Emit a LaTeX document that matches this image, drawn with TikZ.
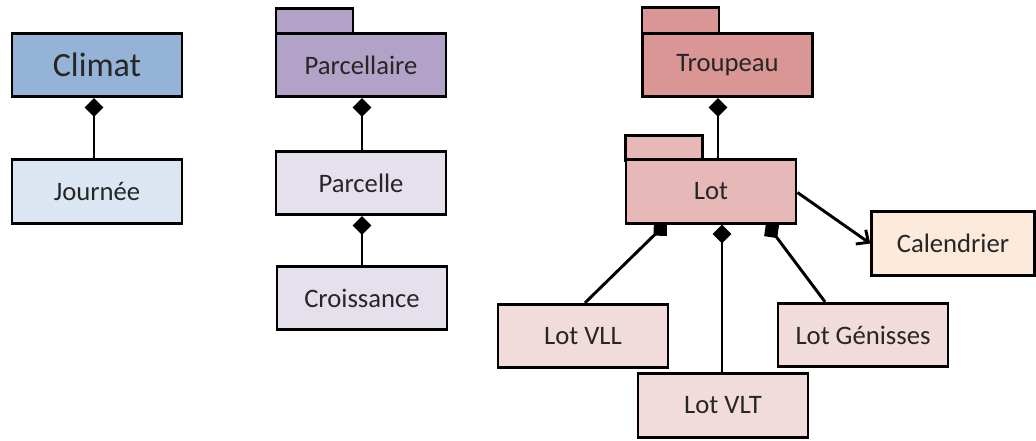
\documentclass[tikz,border=0pt]{standalone}
\usepackage{fontspec}
\setmainfont{Carlito}
\usepackage{xcolor}
\usetikzlibrary{arrows.meta,calc,backgrounds}
\definecolor{ink}{HTML}{262626}
\definecolor{climatfill}{HTML}{95B3D7}
\definecolor{journeefill}{HTML}{DCE6F2}
\definecolor{parcfill}{HTML}{B3A2C7}
\definecolor{parclight}{HTML}{E6E0EC}
\definecolor{troupfill}{HTML}{D99694}
\definecolor{lotfill}{HTML}{E6B9B8}
\definecolor{lotlight}{HTML}{F2DCDB}
\definecolor{calfill}{HTML}{FDEADA}
\tikzset{
  box/.style={draw=black, line width=2.2pt, minimum width=127.5pt, minimum height=47.5pt, inner sep=0pt, text=ink, font=\fontsize{20}{24}\selectfont},
  tab/.style={draw=black, line width=2.2pt, minimum width=57.75pt, minimum height=19pt, inner sep=0pt},
  comp/.style={line width=2.2pt, {Diamond[length=14pt,width=14pt]}-},
  assoc/.style={line width=2.2pt, -{Straight Barb[length=7pt,width=13pt]}}
}
\begin{document}
\begin{tikzpicture}[x=0.75pt,y=-0.75pt]
\useasboundingbox (0,0) rectangle (1036,441);
% Climat
\node[box, fill=climatfill, font=\fontsize{25.5}{30}\selectfont] (climat) at (97,65) {Climat};
\node[box, fill=journeefill] (journee) at (97,191.5) {Journée};
% Parcellaire
\node[tab, fill=parcfill] (parctab) at (314.5,21) {};
\node[box, fill=parcfill] (parcellaire) at (361,65) {Parcellaire};
\node[box, fill=parclight] (parcelle) at (361,183) {Parcelle};
\node[box, fill=parclight] (croissance) at (362,298) {Croissance};
% Troupeau
\node[tab, fill=troupfill] (troutab) at (680.5,20.5) {};
\node[box, fill=troupfill, minimum width=128pt] (troupeau) at (727.5,65) {Troupeau};
\node[tab, fill=lotfill] (lottab) at (664,148) {};
\node[box, fill=lotfill] (lot) at (711,191.5) {Lot};
\node[box, fill=calfill, minimum width=122pt] (calendrier) at (953,243.5) {Calendrier};
\node[box, fill=lotlight] (vll) at (583,336) {Lot VLL};
\node[box, fill=lotlight] (vlt) at (723,405.5) {Lot VLT};
\node[box, fill=lotlight] (genisses) at (863,335) {Lot Génisses};

% connectors
\begin{scope}[on background layer]
\draw[comp] ($(climat.south)+(-3,0)$) -- ($(journee.north)+(-3,0)$);
\draw[comp] ($(parcellaire.south)+(1,0)$) -- ($(parcelle.north)+(1,0)$);
\draw[comp] ($(parcelle.south)+(1,0)$) -- ($(croissance.north)+(0,0)$);
\draw[comp] ($(troupeau.south)+(-9.5,0)$) -- ($(lot.north)+(7,0)$);
\draw[comp] ($(lot.south)+(-44,-2)$) -- ($(vll.north)+(2,0)$);
\draw[comp] ($(lot.south)+(11,0)$) -- ($(vlt.north)+(-1,0)$);
\draw[comp] ($(lot.south)+(55,-1.5)$) -- ($(genisses.north)+(-38,0)$);
\end{scope}
\draw[assoc] ($(lot.east)+(0,1)$) -- (calendrier.west);
\end{tikzpicture}
\end{document}
